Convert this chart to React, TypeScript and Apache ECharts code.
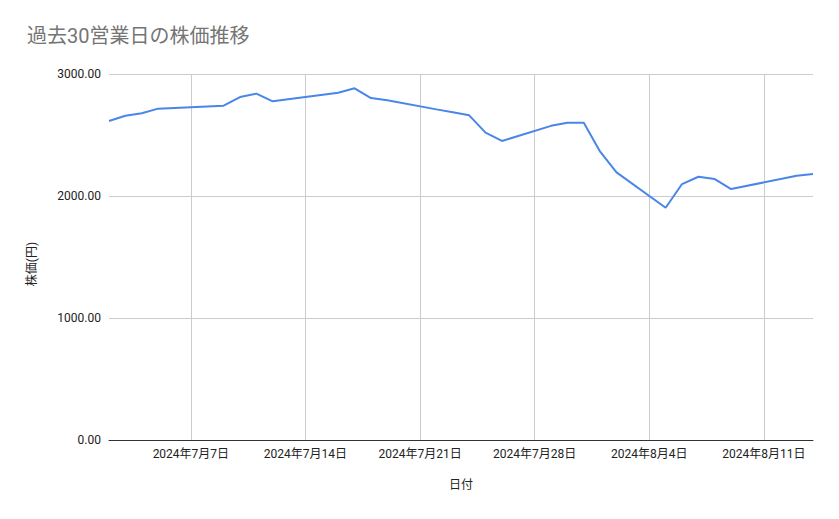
import React, { useEffect, useRef } from "react";
import * as echarts from "echarts";

const dates = [
  "2024-07-02", "2024-07-03", "2024-07-04", "2024-07-05",
  "2024-07-08", "2024-07-09", "2024-07-10", "2024-07-11", "2024-07-12",
  "2024-07-16", "2024-07-17", "2024-07-18", "2024-07-19",
  "2024-07-22", "2024-07-23", "2024-07-24", "2024-07-25", "2024-07-26",
  "2024-07-29", "2024-07-30", "2024-07-31", "2024-08-01", "2024-08-02",
  "2024-08-05", "2024-08-06", "2024-08-07", "2024-08-08", "2024-08-09",
  "2024-08-13", "2024-08-14",
];
const prices = [
  2615, 2658, 2678, 2716,
  2734, 2740, 2811, 2839, 2776,
  2847, 2883, 2803, 2784,
  2710, 2686, 2661, 2519, 2451,
  2575, 2601, 2601, 2363, 2194,
  1904, 2098, 2158, 2139, 2057,
  2166, 2180,
];
const tickDates = ["2024-07-07", "2024-07-14", "2024-07-21", "2024-07-28", "2024-08-04", "2024-08-11"];
const xMinDate = "2024-07-02";
const xMaxDate = "2024-08-14";
const yTicks = [0, 1000, 2000, 3000];

const FONT = "Roboto, 'Noto Sans CJK JP', sans-serif";
const ts = (d: string) => Date.parse(d + "T00:00:00Z");

export default function App() {
  const ref = useRef<HTMLDivElement>(null);
  useEffect(() => {
    if (!ref.current) return;
    const chart = echarts.init(ref.current, null, { renderer: "svg" });
    const tickVals = tickDates.map(ts);
    chart.setOption({
      animation: false,
      backgroundColor: "#ffffff",
      textStyle: { fontFamily: FONT },
      title: {
        text: "過去30営業日の株価推移",
        left: 22,
        top: 21,
        textStyle: { color: "#757575", fontSize: 20, fontWeight: "normal", fontFamily: FONT },
      },
      grid: { left: 109, right: 26, top: 74, bottom: 79, containLabel: false },
      xAxis: {
        type: "value",
        min: ts(xMinDate),
        max: ts(xMaxDate),
        name: "日付",
        nameLocation: "middle",
        nameGap: 39,
        nameTextStyle: { color: "#222222", fontSize: 12, fontFamily: FONT },
        axisLine: { show: true, lineStyle: { color: "#333333", width: 1 } },
        axisTick: { show: false, customValues: tickVals },
        axisLabel: {
          customValues: tickVals,
          color: "#222222",
          fontSize: 12,
          margin: 8,
          fontFamily: FONT,
          formatter: (v: number) => {
            const d = new Date(v);
            return `${d.getUTCFullYear()}年${d.getUTCMonth() + 1}月${d.getUTCDate()}日`;
          },
        },
        splitLine: { show: true, lineStyle: { color: "#cccccc", width: 1 } },
      },
      yAxis: {
        type: "value",
        min: yTicks[0],
        max: yTicks[yTicks.length - 1],
        interval: 1000,
        name: "株価(円)",
        nameLocation: "middle",
        nameGap: 71,
        nameTextStyle: { color: "#222222", fontSize: 12, fontFamily: FONT, padding: [0, 14, 0, 0] },
        axisLine: { show: false },
        axisTick: { show: false },
        axisLabel: {
          color: "#222222",
          fontSize: 12,
          margin: 8,
          fontFamily: FONT,
          formatter: (v: number) => v.toFixed(2),
        },
        splitLine: { show: true, lineStyle: { color: "#cccccc", width: 1 } },
      },
      series: [
        {
          type: "line",
          data: dates.map((d, i) => [ts(d), prices[i]]),
          showSymbol: false,
          symbol: "none",
          lineStyle: { color: "#4a86e8", width: 2 },
          itemStyle: { color: "#4a86e8" },
        },
      ],
    });
    return () => chart.dispose();
  }, []);
  return <div ref={ref} style={{ width: 839, height: 519, position: "absolute", left: 0, top: 0 }} />;
}
